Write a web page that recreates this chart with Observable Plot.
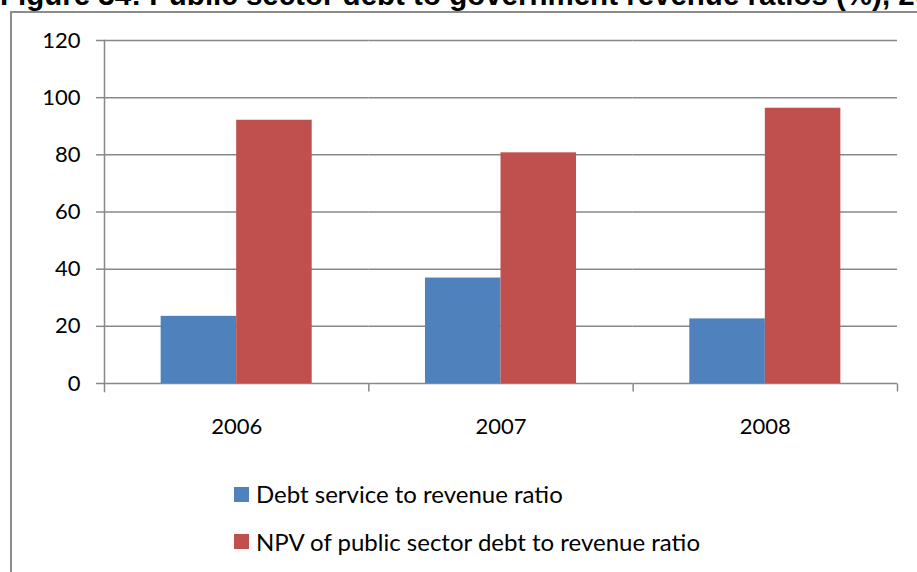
<!DOCTYPE html>
<html>
<head>
<meta charset="utf-8">
<script src="https://cdn.jsdelivr.net/npm/d3@7"></script>
<script src="https://cdn.jsdelivr.net/npm/@observablehq/plot@0.6"></script>
<style>
  html, body { margin: 0; padding: 0; background: #fff; }
  body { width: 917px; height: 572px; overflow: hidden; position: relative; }
  #title { position: absolute; left: 0; top: -20.5px; white-space: nowrap;
    font: bold 29.5px/29.5px "Liberation Sans", Arial, sans-serif; color: #000; }
  #frame { position: absolute; left: 10px; top: 11px; width: 2000px; height: 2000px;
    border-left: 2px solid #8c8c8c; border-top: 2px solid #8c8c8c; }
  #chart { position: absolute; left: 0; top: 0; }
  #legend { position: absolute; left: 234px; top: 482px; font: 24px/24px Lato, sans-serif; color: #000;
    display: flex; flex-direction: column; gap: 23.7px; }
  .item { display: flex; align-items: center; height: 24px; white-space: nowrap; }
  .sw { width: 15px; height: 15px; margin-right: 7px; flex: none; }
</style>
</head>
<body>
<div id="title">Figure 34: Public sector debt to government revenue ratios (%), 2006-2008</div>
<div id="frame"></div>
<div id="chart"></div>
<div id="legend"></div>
<script>
const years = ["2006", "2007", "2008"];
const seriesNames = ["Debt service to revenue ratio", "NPV of public sector debt to revenue ratio"];
const debtService = [23.5, 36.9, 22.6];
const npvDebt = [92.1, 80.7, 96.3];
const yTicks = [0, 20, 40, 60, 80, 100, 120];
const colors = ["#4F81BD", "#C0504D"];

const data = [];
years.forEach((yr, i) => {
  data.push({year: yr, series: seriesNames[0], value: debtService[i]});
  data.push({year: yr, series: seriesNames[1], value: npvDebt[i]});
});

const axisGrey = "#888";
const tickLen = 8;
const tickSymbol = { draw(ctx) { ctx.moveTo(0, 0); ctx.lineTo(0, tickLen); } };

const chart = Plot.plot({
  width: 917,
  height: 450,
  marginLeft: 104,
  marginRight: 20,
  marginTop: 40,
  marginBottom: 67,
  style: { fontFamily: "Lato, sans-serif", fontSize: "22px", color: "#000", background: "transparent", overflow: "visible" },
  fx: { domain: years, padding: 0, round: false, axis: null, label: null },
  x: { domain: seriesNames, paddingInner: 0, paddingOuter: 0.75, round: false, axis: null },
  y: { domain: [0, 120], axis: null },
  color: { domain: seriesNames, range: colors },
  marks: [
    Plot.gridY(yTicks, { stroke: axisGrey, strokeOpacity: 1, strokeWidth: 1.5 }),
    Plot.barY(data, { fx: "year", x: "series", y: "value", fill: "series" }),
    Plot.frame({ anchor: "left", facetAnchor: "left", stroke: axisGrey, strokeWidth: 1.5, insetBottom: -tickLen }),
    Plot.dot([0], { frameAnchor: "bottom-right", symbol: tickSymbol, stroke: axisGrey, strokeWidth: 1.5, fill: "none" }),
    Plot.axisY(yTicks, { anchor: "left", tickSize: tickLen, tickPadding: 16, stroke: axisGrey, strokeWidth: 1.5, fill: "#000", label: null, fontSize: 22 }),
    Plot.axisFx({ anchor: "bottom", tickSize: 0, tickPadding: 35, fill: "#000", label: null, fontSize: 22 })
  ]
});
document.getElementById("chart").appendChild(chart);

const legend = document.getElementById("legend");
seriesNames.forEach((name, i) => {
  const item = document.createElement("div");
  item.className = "item";
  const sw = document.createElement("span");
  sw.className = "sw";
  sw.style.background = colors[i];
  item.appendChild(sw);
  item.appendChild(document.createTextNode(name));
  legend.appendChild(item);
});
</script>
</body>
</html>
